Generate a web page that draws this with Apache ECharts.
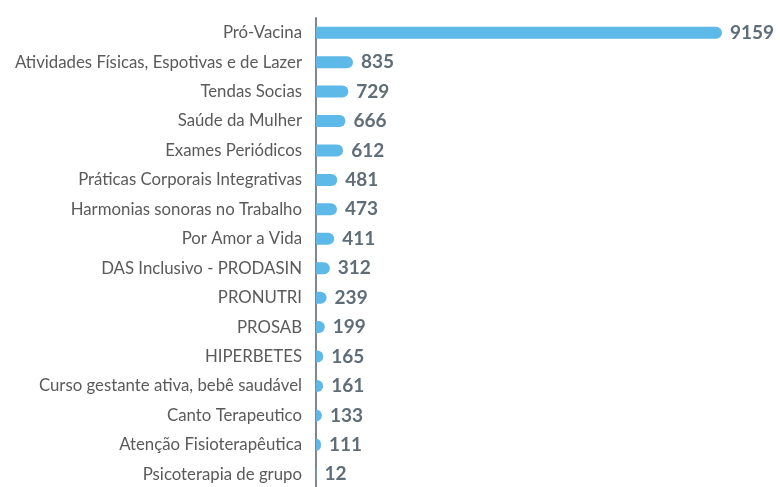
<!DOCTYPE html>
<html>
<head>
<meta charset="utf-8">
<script src="https://cdn.jsdelivr.net/npm/echarts@6/dist/echarts.min.js"></script>
<style>
html, body { margin: 0; padding: 0; background: #fff; overflow: hidden; }
#chart { width: 780px; height: 492px; }
</style>
</head>
<body>
<div id="chart"></div>
<script>
var categories = [
	'Pró-Vacina',
	'Atividades Físicas, Espotivas e de Lazer',
	'Tendas Socias',
	'Saúde da Mulher',
	'Exames Periódicos',
	'Práticas Corporais Integrativas',
	'Harmonias sonoras no Trabalho',
	'Por Amor a Vida',
	'DAS Inclusivo - PRODASIN',
	'PRONUTRI',
	'PROSAB',
	'HIPERBETES',
	'Curso gestante ativa, bebê saudável',
	'Canto Terapeutico',
	'Atenção Fisioterapêutica',
	'Psicoterapia de grupo'
];
var values = [9159, 835, 729, 666, 612, 481, 473, 411, 312, 239, 199, 165, 161, 133, 111, 12];

var myChart = echarts.init(document.getElementById('chart'));
var option = {
	animation: false,
	grid: { left: 316, right: 58, top: 18, bottom: 3 },
	xAxis: {
		type: 'value',
		min: 0,
		max: 9159,
		show: false
	},
	yAxis: {
		type: 'category',
		inverse: true,
		data: categories,
		axisLine: { show: true, lineStyle: { color: '#7d878d', width: 2 } },
		axisTick: { show: false },
		axisLabel: {
			color: '#5a5a5a',
			fontFamily: 'Lato',
			fontSize: 16.8,
			margin: 14
		}
	},
	series: [{
		type: 'bar',
		data: values,
		barWidth: 12,
		itemStyle: { color: '#5db9e7', borderRadius: [0, 6, 6, 0] },
		label: {
			show: true,
			position: 'right',
			distance: 8,
			color: '#5e6d77',
			fontFamily: 'Lato',
			fontWeight: 'bold',
			fontSize: 19
		}
	}]
};
myChart.setOption(option);
</script>
</body>
</html>
